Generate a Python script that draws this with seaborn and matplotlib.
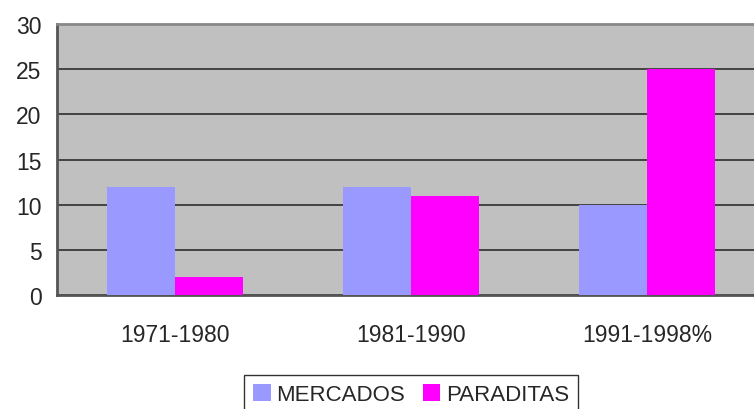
import matplotlib
matplotlib.use("Agg")
import matplotlib.pyplot as plt
import seaborn as sns
import pandas as pd
import numpy as np

# data
periodos = ["1971-1980", "1981-1990", "1991-1998%"]
mercados = [12, 12, 10]
paraditas = [2, 11, 25]

df = pd.DataFrame({
    "periodo": periodos * 2,
    "valor": mercados + paraditas,
    "serie": ["MERCADOS"] * 3 + ["PARADITAS"] * 3,
})

sns.set_style("white")
plt.rcParams["font.family"] = ["Liberation Sans", "DejaVu Sans"]

fig = plt.figure(figsize=(7.54, 4.10), dpi=100)
ax = fig.add_axes([0.0756, 0.278, 0.939, 0.661])
ax.set_facecolor("#C0C0C0")

sns.barplot(data=df, x="periodo", y="valor", hue="serie",
            palette=["#9999FF", "#FF00FF"], width=0.576,
            saturation=1, ax=ax, legend=True, zorder=3, linewidth=0)

ax.set_ylim(0, 30)
ax.set_xlim(-0.5, 2.5)
ax.set_yticks(range(0, 31, 5))
ax.grid(axis="y", color="#222222", linewidth=1.1, zorder=0)
ax.set_axisbelow(True)

for s in ["left", "bottom"]:
    ax.spines[s].set_color("#555555")
    ax.spines[s].set_linewidth(2)
ax.spines["top"].set_color("#888888")
ax.spines["top"].set_linewidth(2)
ax.spines["right"].set_visible(False)

ax.tick_params(axis="y", length=8, width=1, color="black", labelsize=16.5, pad=3)
ax.tick_params(axis="x", which="major", length=0, labelsize=16.5, pad=20)
ax.set_xticks([-0.5, 0.5, 1.5, 2.5], minor=True)
ax.tick_params(axis="x", which="minor", length=5, width=1, color="black")
ax.set_xlabel("")
ax.set_ylabel("")

handles, labels = ax.get_legend_handles_labels()
ax.get_legend().remove()
leg = fig.legend(handles, labels, loc="lower center", ncol=2,
                 bbox_to_anchor=(0.545, -0.04), frameon=True, fancybox=False,
                 edgecolor="black", fontsize=16, handlelength=0.8,
                 handleheight=0.8, handletextpad=0.25, columnspacing=0.8,
                 borderpad=0.4)
leg.get_frame().set_linewidth(1)

fig.savefig("out.png", dpi=100)
